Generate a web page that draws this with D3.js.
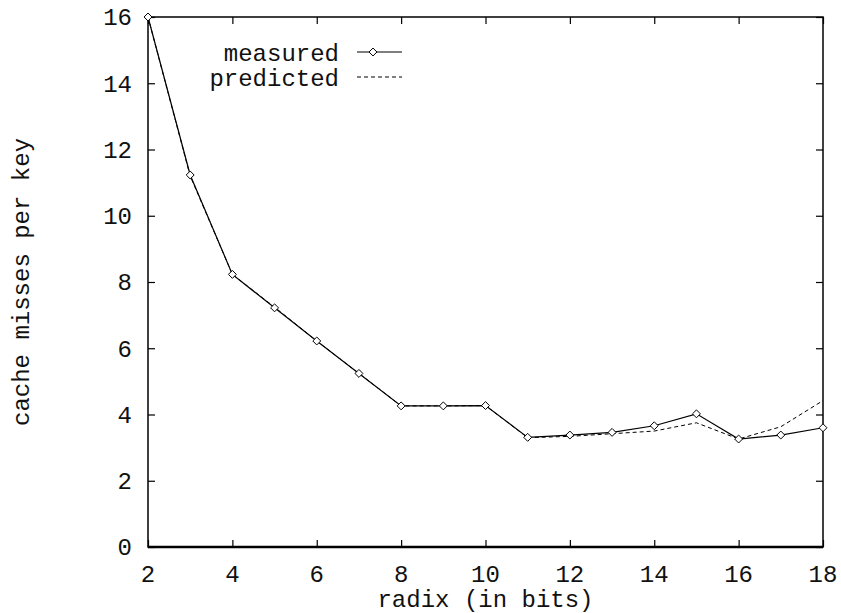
<!DOCTYPE html>
<html>
<head>
<meta charset="utf-8">
<script src="https://cdn.jsdelivr.net/npm/d3@7"></script>
<style>
  body { margin: 0; background: #fff; }
  text { font-family: "Liberation Mono", "DejaVu Sans Mono", monospace; font-size: 24px; fill: #111; }
</style>
</head>
<body>
<div id="chart-area"></div>
<script>
// radix vs cache misses per key

var radix     = [2, 3, 4, 5, 6, 7, 8, 9, 10, 11, 12, 13, 14, 15, 16, 17, 18];
var measured  = [16, 11.23, 8.23, 7.22, 6.22, 5.24, 4.26, 4.26, 4.27, 3.31, 3.38, 3.46, 3.66, 4.02, 3.26, 3.38, 3.6];
var predicted = [16, 11.2, 8.23, 7.24, 6.22, 5.24, 4.26, 4.26, 4.27, 3.3, 3.34, 3.42, 3.5, 3.75, 3.26, 3.63, 4.42];
var xTicks = [2, 4, 6, 8, 10, 12, 14, 16, 18];
var yTicks = [0, 2, 4, 6, 8, 10, 12, 14, 16];

var margin = { left: 148, right: 18, top: 17, bottom: 66 },
    width = 841 - margin.left - margin.right,
    height = 613 - margin.top - margin.bottom;

var svg = d3.select("#chart-area")
    .append("svg")
    .attr("width", 841)
    .attr("height", 613);

var g = svg.append("g")
    .attr("transform", "translate(" + margin.left + "," + margin.top + ")");

var x = d3.scaleLinear().domain([2, 18]).range([0, width]);
var y = d3.scaleLinear().domain([0, 16]).range([height, 0]);

// ticks on all four sides, pointing inward
g.append("g")
    .attr("transform", "translate(0," + height + ")")
    .call(d3.axisTop(x).tickValues(xTicks).tickSize(7).tickFormat(""));
g.append("g")
    .call(d3.axisBottom(x).tickValues(xTicks).tickSize(7).tickFormat(""));
g.append("g")
    .call(d3.axisRight(y).tickValues(yTicks).tickSize(7).tickFormat(""));
g.append("g")
    .attr("transform", "translate(" + width + ",0)")
    .call(d3.axisLeft(y).tickValues(yTicks).tickSize(7).tickFormat(""));
g.selectAll(".domain").remove();
g.selectAll(".tick line").attr("stroke", "#000").attr("stroke-width", 1.2);

// tick labels
g.selectAll(".xlab")
    .data(xTicks)
  .enter().append("text")
    .attr("x", function(d) { return x(d); })
    .attr("y", height + 35)
    .attr("text-anchor", "middle")
    .text(function(d) { return d; });

g.selectAll(".ylab")
    .data(yTicks)
  .enter().append("text")
    .attr("x", -16)
    .attr("y", function(d) { return y(d); })
    .attr("dy", "0.35em")
    .attr("text-anchor", "end")
    .text(function(d) { return d; });

// frame
g.append("rect")
    .attr("width", width)
    .attr("height", height)
    .attr("fill", "none")
    .attr("stroke", "#000")
    .attr("stroke-width", 1.5);
g.append("line")
    .attr("x1", 0).attr("x2", width)
    .attr("y1", y(0)).attr("y2", y(0))
    .attr("stroke", "#000")
    .attr("stroke-width", 2.5);

// axis titles
svg.append("text")
    .attr("x", margin.left + width / 2)
    .attr("y", 607)
    .attr("text-anchor", "middle")
    .text("radix (in bits)");

svg.append("text")
    .attr("transform", "translate(29," + (margin.top + height / 2) + ") rotate(-90)")
    .attr("text-anchor", "middle")
    .text("cache misses per key");

var line = d3.line()
    .x(function(d, i) { return x(radix[i]); })
    .y(function(d) { return y(d); });

g.append("path")
    .datum(predicted)
    .attr("fill", "none")
    .attr("stroke", "#000")
    .attr("stroke-width", 1)
    .attr("stroke-dasharray", "4,3")
    .attr("d", line);

g.append("path")
    .datum(measured)
    .attr("fill", "none")
    .attr("stroke", "#000")
    .attr("stroke-width", 1.2)
    .attr("d", line);

var diamond = d3.symbol().type(d3.symbolDiamond2).size(40);

g.selectAll(".pt")
    .data(measured)
  .enter().append("path")
    .attr("transform", function(d, i) { return "translate(" + x(radix[i]) + "," + y(d) + ")"; })
    .attr("d", diamond)
    .attr("fill", "#fff")
    .attr("stroke", "#000")
    .attr("stroke-width", 1);

// legend
var legend = svg.append("g");
legend.append("text")
    .attr("x", 339).attr("y", 53).attr("dy", "0.35em")
    .attr("text-anchor", "end")
    .text("measured");
legend.append("line")
    .attr("x1", 357).attr("x2", 402).attr("y1", 52).attr("y2", 52)
    .attr("stroke", "#000").attr("stroke-width", 1.2);
legend.append("path")
    .attr("transform", "translate(373,52)")
    .attr("d", diamond)
    .attr("fill", "#fff")
    .attr("stroke", "#000");
legend.append("text")
    .attr("x", 339).attr("y", 78).attr("dy", "0.35em")
    .attr("text-anchor", "end")
    .text("predicted");
legend.append("line")
    .attr("x1", 357).attr("x2", 402).attr("y1", 77).attr("y2", 77)
    .attr("stroke", "#000").attr("stroke-width", 1)
    .attr("stroke-dasharray", "4,3");
</script>
</body>
</html>
